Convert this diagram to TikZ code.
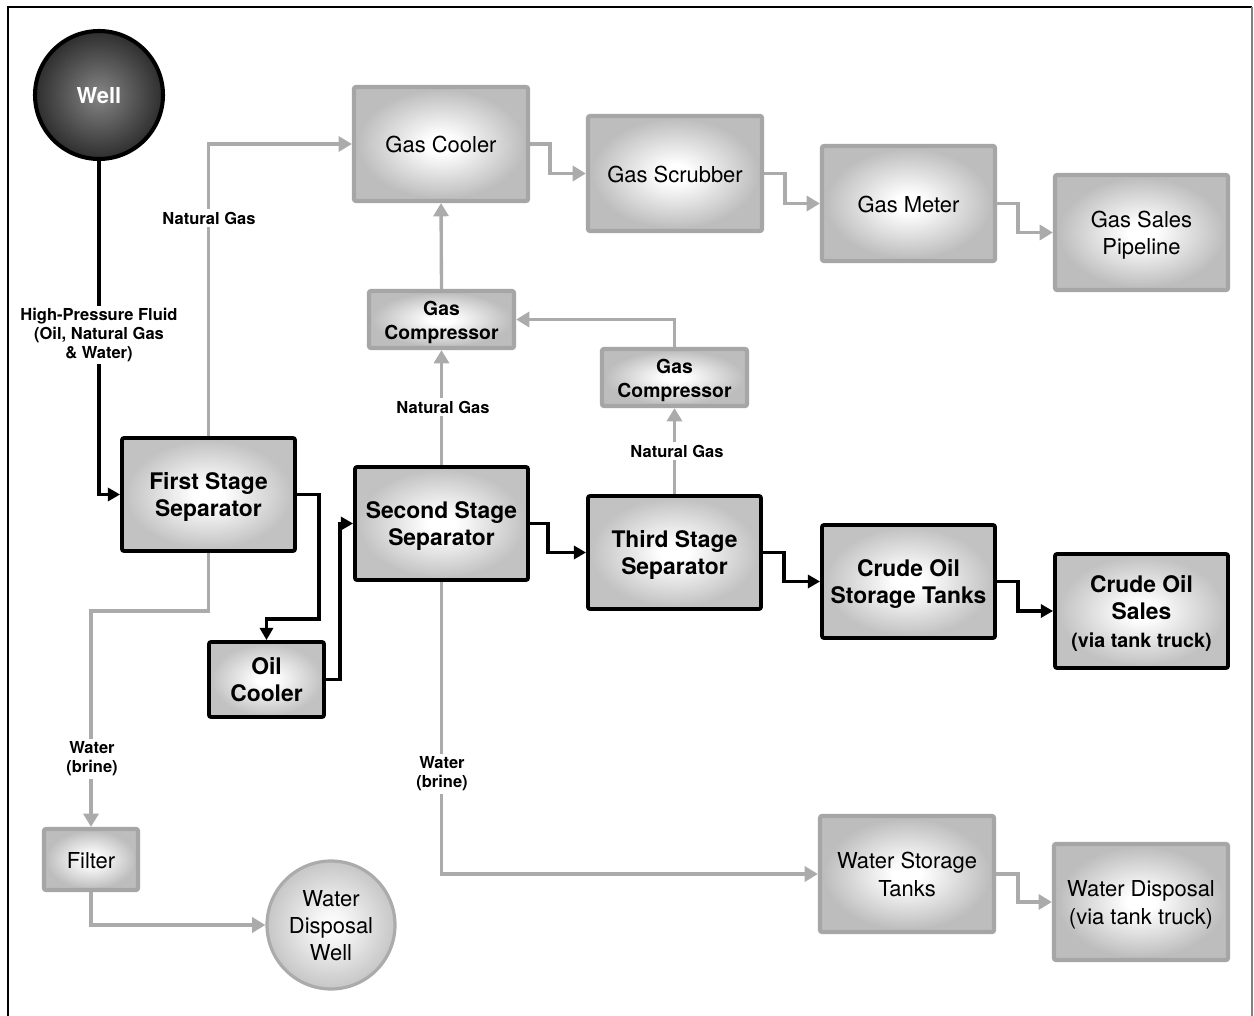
\documentclass[tikz,border=0pt]{standalone}
\usepackage{fontspec}
\setmainfont{TeX Gyre Heros}
\usetikzlibrary{arrows.meta,calc,backgrounds}
\definecolor{lgray}{HTML}{ABABAB}
\definecolor{bordg}{HTML}{A6A6A6}
\definecolor{boxg}{HTML}{BDBDBD}
\definecolor{boxgb}{HTML}{C2C2C2}
\definecolor{welldark}{HTML}{2E2E2E}
\definecolor{welllight}{HTML}{858585}
\definecolor{wdwout}{HTML}{C6C6C6}
\pgfdeclareradialshading{boxshadeG}{\pgfpoint{0bp}{0bp}}{color(0bp)=(white); color(4bp)=(white); color(24bp)=(boxg); color(50bp)=(boxg)}
\pgfdeclareradialshading{boxshadeB}{\pgfpoint{0bp}{0bp}}{color(0bp)=(white); color(4bp)=(white); color(24bp)=(boxgb); color(50bp)=(boxgb)}
\pgfdeclareradialshading{wellshade}{\pgfpoint{0bp}{0bp}}{color(0bp)=(welllight); color(25bp)=(welldark); color(50bp)=(welldark)}
\pgfdeclareradialshading{wdwshade}{\pgfpoint{0bp}{0bp}}{color(0bp)=(white); color(6bp)=(white!96!black); color(25bp)=(wdwout); color(50bp)=(wdwout)}
\newcommand\boxtxt[1]{\raisebox{-1.8pt}[\height][\depth]{\begin{tabular}{@{}c@{}}#1\end{tabular}}}
\begin{document}
\begin{tikzpicture}[x=0.02cm,y=-0.02cm,
  sz/.style 2 args={minimum width=#1*0.02cm, minimum height=#2*0.02cm},
  boxbase/.style={rounded corners=1.2pt, inner sep=0pt},
  blackbox/.style={boxbase, draw=black, line width=2.2pt, shading=boxshadeB, font=\fontsize{13}{15.7}\selectfont\bfseries},
  graybox/.style={boxbase, draw=bordg, line width=2.4pt, shading=boxshadeG, font=\fontsize{12.5}{15.5}\selectfont},
  compbox/.style={graybox, font=\fontsize{11}{13.3}\selectfont\bfseries},
  blk/.style={draw=black, line width=2.1pt, -{Triangle[length=7pt,width=7.5pt]}},
  gry/.style={draw=lgray, line width=1.9pt, -{Triangle[length=7.5pt,width=8.5pt]}},
  lbl/.style={fill=white, inner sep=1.5pt, align=center, font=\fontsize{9.4}{10.8}\selectfont\bfseries}
]
\useasboundingbox (0,0) rectangle (1254,1016);

% nodes
\node[circle, draw=black, line width=2.3pt, shading=wellshade, minimum size=128*0.02cm, inner sep=0pt,
      text=white, font=\fontsize{12.5}{15}\selectfont\bfseries] (well) at (99,95) {\boxtxt{Well}};
\node[blackbox, sz={173}{113}] (fs) at (208.5,494.5) {\boxtxt{First Stage\\Separator}};
\node[blackbox, sz={173}{113}] (ss) at (441.5,523.5) {\boxtxt{Second Stage\\Separator}};
\node[blackbox, sz={115}{75}] (oc) at (266.5,679.5) {\boxtxt{Oil\\Cooler}};
\node[blackbox, sz={173}{113}] (ts) at (674.5,552.5) {\boxtxt{Third Stage\\Separator}};
\node[blackbox, sz={173}{113}] (cst) at (908.5,581.5) {\boxtxt{Crude Oil\\Storage Tanks}};
\node[blackbox, sz={173}{114}] (cos) at (1141.5,611) {\boxtxt{Crude Oil\\Sales\\{\fontsize{11.2}{13.5}\selectfont (via tank truck)}}};
\node[graybox, sz={174}{114}] (gc) at (441,144) {\boxtxt{Gas Cooler}};
\node[graybox, sz={174}{115}] (gsc) at (675,173.5) {\boxtxt{Gas Scrubber}};
\node[graybox, sz={173}{115}] (gm) at (908.5,203.5) {\boxtxt{Gas Meter}};
\node[graybox, sz={173}{115}] (gsp) at (1141.5,232.5) {\boxtxt{Gas Sales\\Pipeline}};
\node[compbox, sz={145}{57}] (cp1) at (441.5,319.5) {\boxtxt{Gas\\Compressor}};
\node[compbox, sz={145}{57}] (cp2) at (674.5,377.5) {\boxtxt{Gas\\Compressor}};
\node[graybox, sz={94}{61}] (filt) at (91,859.5) {\boxtxt{Filter}};
\node[graybox, sz={174}{116}] (wst) at (907,874) {\boxtxt{Water Storage\\Tanks}};
\node[graybox, sz={174}{116}] (wd) at (1141,902) {\boxtxt{Water Disposal\\(via tank truck)}};
\node[circle, draw=lgray, line width=1.8pt, shading=wdwshade, minimum size=128*0.02cm, inner sep=0pt,
      font=\fontsize{12.5}{15.3}\selectfont] (wdw) at (331,925) {\boxtxt{Water\\Disposal\\Well}};

% connectors
\begin{scope}[on background layer]
\fill[white] (0,0) rectangle (1254,1016);
\draw[black, line width=1.1pt] (8,1016) -- (8,7) -- (1252,7);
\draw[gray, line width=0.8pt] (1252,7) -- (1252,1016);
\draw[blk] (well.south) |- (fs.west);
\draw[gry] (fs.north) |- (gc.west);
\draw[gry] (fs.south) -- ++(0,58) -| (filt.north);
\draw[blk] (fs.east) -- ++(22,0) |- ($(oc.north)+(0,-21)$) -- (oc.north);
\draw[blk] (oc.east) -- ++(14,0) |- (ss.west);
\draw[blk] (ss.east) -- ++(18,0) |- (ts.west);
\draw[blk] (ts.east) -- ++(21,0) |- (cst.west);
\draw[blk] (cst.east) -- ++(21,0) |- (cos.west);
\draw[gry] (gc.east) -- ++(20,0) |- (gsc.west);
\draw[gry] (gsc.east) -- ++(21,0) |- (gm.west);
\draw[gry] (gm.east) -- ++(21,0) |- (gsp.west);
\draw[gry] (ss.north) -- (cp1.south);
\draw[gry] (cp1.north) -- (gc.south);
\draw[gry] (ts.north) -- (cp2.south);
\draw[gry] (cp2.north) |- (cp1.east);
\draw[gry] (ss.south) |- (wst.west);
\draw[gry] (wst.east) -- ++(22,0) |- (wd.west);
\draw[gry] (filt.south) |- (wdw.west);
\end{scope}

% labels
\node[lbl] (l1) at (99,335) {High-Pressure Fluid\\(Oil, Natural Gas\\\& Water)};
\node[lbl] (l2) at (209,218) {Natural Gas};
\node[lbl] (l3) at (443,407) {Natural Gas};
\node[lbl] (l4) at (677,451) {Natural Gas};
\node[lbl] (l5) at (92,759) {Water\\(brine)};
\node[lbl] (l6) at (442,774) {Water\\(brine)};
\end{tikzpicture}
\end{document}
